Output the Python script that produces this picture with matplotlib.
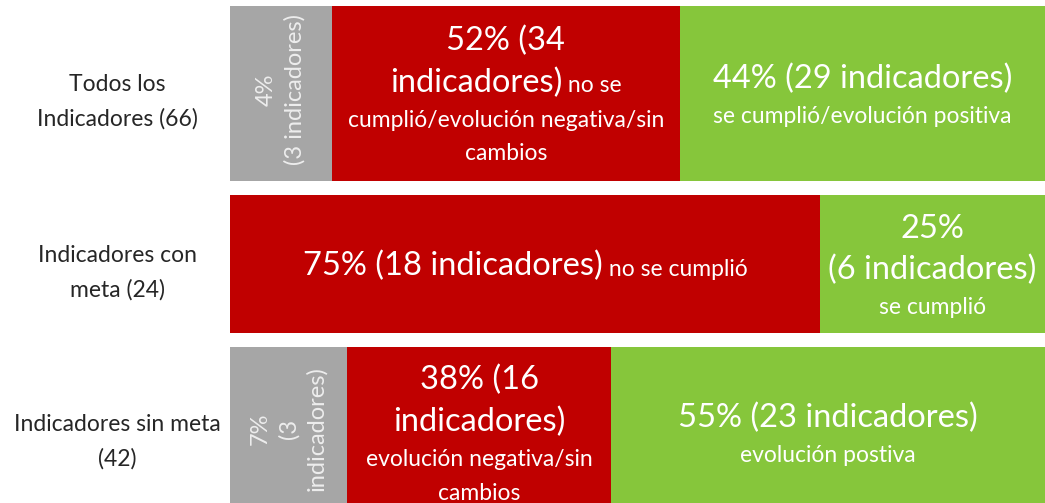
import matplotlib
matplotlib.use("Agg")
import matplotlib.pyplot as plt
import numpy as np

plt.rcParams['font.family'] = ['Lato', 'DejaVu Sans']

# Data (segment lengths as drawn, in % of the bar)
categories = ["Todos los\nIndicadores (66)", "Indicadores con\nmeta (24)", "Indicadores sin meta\n(42)"]
gray_width = [12.5, 0.0, 14.4]
red_width = [42.7, 72.4, 32.4]
green_width = [44.8, 27.6, 53.2]

gray_labels = ["4%\n(3 indicadores)", "", "7%\n(3\nindicadores)"]
# each label: list of lines, each line a list of (text, "B"ig / "S"mall)
red_labels = [
    [[("52% (34", "B")], [("indicadores)", "B"), (" no se", "S")],
     [("cumplió/evolución negativa/sin", "S")], [("cambios", "S")]],
    [[("75% (18 indicadores)", "B"), (" no se cumplió", "S")]],
    [[("38% (16", "B")], [("indicadores)", "B")],
     [("evolución negativa/sin", "S")], [("cambios", "S")]],
]
green_labels = [
    [[("44% (29 indicadores)", "B")], [("se cumplió/evolución positiva", "S")]],
    [[("25%", "B")], [("(6 indicadores)", "B")], [("se cumplió", "S")]],
    [[("55% (23 indicadores)", "B")], [("evolución postiva", "S")]],
]

GRAY = "#A6A6A6"
RED = "#C00000"
GREEN = "#86C63B"
BIG, SMALL = 23.5, 16.5
LINE_H = {"B": 42, "S": 34}

W, H = 1045, 503
fig = plt.figure(figsize=(W / 100, H / 100), dpi=100)
ax = fig.add_axes([230 / W, 0, 815 / W, 1])
ax.set_xlim(0, 100)
ax.set_ylim(H, 0)  # y in pixels from the top

# bar layout (pixels from top)
y_center = [93.5, 264, 433]
bar_h = [175, 138, 172]

gray_width = np.array(gray_width)
red_width = np.array(red_width)
green_width = np.array(green_width)
ax.barh(y_center, gray_width, height=bar_h, color=GRAY)
ax.barh(y_center, red_width, left=gray_width, height=bar_h, color=RED)
ax.barh(y_center, green_width, left=gray_width + red_width, height=bar_h, color=GREEN)

ax.set_yticks(y_center)
ax.set_yticklabels(categories, fontsize=16.5, color="#262626", ha="center",
                   multialignment="center", linespacing=1.75)
ax.tick_params(axis="y", length=0, pad=81)
for lbl in ax.get_yticklabels():
    lbl.set_y(lbl.get_position()[1])
ax.set_xticks([])
for s in ax.spines.values():
    s.set_visible(False)

fig.canvas.draw()
renderer = fig.canvas.get_renderer()
inv = ax.transData.inverted()


def draw_block(xc, yc, lines):
    total = sum(LINE_H["B" if any(p[1] == "B" for p in ln) else "S"] for ln in lines)
    top = yc - total / 2
    for ln in lines:
        kind = "B" if any(p[1] == "B" for p in ln) else "S"
        lh = LINE_H[kind]
        base = top + lh / 2 + (11.5 if kind == "B" else 8)
        texts = []
        for s, k in ln:
            t = ax.text(xc, base, s, fontsize=BIG if k == "B" else SMALL,
                        color="white", ha="left", va="baseline")
            texts.append(t)
        widths = [t.get_window_extent(renderer).width for t in texts]
        px_c = ax.transData.transform((xc, base))[0]
        px = px_c - sum(widths) / 2
        for t, w in zip(texts, widths):
            t.set_x(inv.transform((px, 0))[0])
            px += w
        top += lh


for i in range(3):
    if gray_width[i] > 0:
        ax.text(gray_width[i] / 2, y_center[i] - 4, gray_labels[i], rotation=90,
                ha="center", va="center", multialignment="center",
                fontsize=17, color="#EDEDED", linespacing=1.4)
    draw_block(gray_width[i] + red_width[i] / 2, y_center[i], red_labels[i])
    draw_block(gray_width[i] + red_width[i] + green_width[i] / 2, y_center[i], green_labels[i])

fig.savefig("out.png", dpi=100)
